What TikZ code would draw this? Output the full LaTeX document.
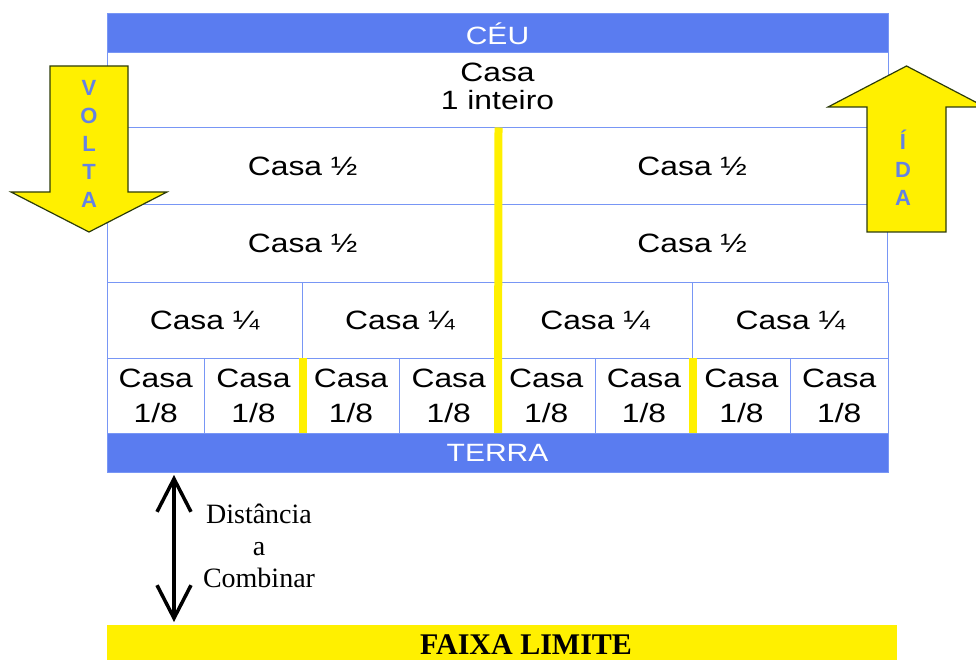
\documentclass[tikz,border=0pt]{standalone}
\usepackage{fontspec}
\setmainfont{Liberation Serif}
\newfontfamily\casafont[FakeStretch=1.2]{Liberation Sans}
\newfontfamily\setafont{Liberation Sans}
\usetikzlibrary{arrows.meta}
\definecolor{barblue}{RGB}{90,124,240}
\definecolor{gridblue}{RGB}{120,150,245}
\definecolor{faixayellow}{RGB}{255,240,0}
\definecolor{arrowedge}{RGB}{45,60,10}
\definecolor{letterblue}{RGB}{100,130,228}
\begin{document}
\begin{tikzpicture}[x=1pt,y=-1pt,
  cell/.style={rectangle,draw=gridblue,line width=1pt,inner sep=0pt,align=center,
    font={\casafont\fontsize{26.5pt}{28pt}\selectfont}},
  cell8/.style={cell,minimum width=97.625pt,minimum height=75pt,
    font={\casafont\fontsize{26.5pt}{35pt}\selectfont}},
  bar/.style={rectangle,fill=barblue,draw=gridblue,line width=1pt,inner sep=0pt,
    minimum width=781pt,minimum height=39pt,text=white,
    font={\casafont\fontsize{25pt}{28pt}\selectfont}},
  divider/.style={draw=faixayellow,line width=8pt},
  bigarrow/.style={fill=faixayellow,draw=arrowedge,line width=1.2pt,line join=miter},
  seta/.style={text=letterblue,align=center,inner sep=0pt,
    font={\setafont\bfseries\fontsize{22pt}{28pt}\selectfont}},
  dist/.style={arrows={Straight Barb[length=33pt,width=34pt]-Straight Barb[length=33pt,width=34pt]},line width=3.5pt}]
\clip (0,0) rectangle (976,660);
%
\node at (497.5,90.5) [cell,minimum width=781pt,minimum height=75pt,text depth=8pt] (inteiro) {Casa\\1 inteiro};
%
\node at (302.75,166.5) [cell,minimum width=390.5pt,minimum height=77pt] (meio11) {Casa ½};
\node at (692.25,166.5) [cell,minimum width=390.5pt,minimum height=77pt] (meio12) {Casa ½};
\node at (302.75,243.5) [cell,minimum width=390.5pt,minimum height=77pt] (meio21) {Casa ½};
\node at (692.25,243.5) [cell,minimum width=390.5pt,minimum height=77pt] (meio22) {Casa ½};
%
\node at (204.625,320) [cell,minimum width=195.25pt,minimum height=76pt] (quarto1) {Casa ¼};
\node at (399.875,320) [cell,minimum width=195.25pt,minimum height=76pt] (quarto2) {Casa ¼};
\node at (595.125,320) [cell,minimum width=195.25pt,minimum height=76pt] (quarto3) {Casa ¼};
\node at (790.375,320) [cell,minimum width=195.25pt,minimum height=76pt] (quarto4) {Casa ¼};
%
\node at (155.8125,395.5) [cell8] (oitavo1) {Casa\\1/8};
\node at (253.4375,395.5) [cell8] (oitavo2) {Casa\\1/8};
\node at (351.0625,395.5) [cell8] (oitavo3) {Casa\\1/8};
\node at (448.6875,395.5) [cell8] (oitavo4) {Casa\\1/8};
\node at (546.3125,395.5) [cell8] (oitavo5) {Casa\\1/8};
\node at (643.9375,395.5) [cell8] (oitavo6) {Casa\\1/8};
\node at (741.5625,395.5) [cell8] (oitavo7) {Casa\\1/8};
\node at (839.1875,395.5) [cell8] (oitavo8) {Casa\\1/8};
%
\draw[divider] (meio11.north east) -- (oitavo4.south east);
\draw[divider] (oitavo2.north east) -- (oitavo2.south east);
\draw[divider] (oitavo6.north east) -- (oitavo6.south east);
%
\node at (497.5,33.5) [bar] (ceu) {CÉU};
\node at (497.5,452.5) [bar] (terra) {TERRA};
%
\draw[bigarrow] (50,66) -- (128,66) -- (128,192) -- (167,192) -- (89,232) -- (11,192) -- (50,192) -- cycle;
\node at (89,144) [seta] (volta) {V\\O\\L\\T\\A};
\draw[bigarrow] (867,232) -- (946,232) -- (946,107) -- (985,107) -- (906.5,66) -- (828,107) -- (867,107) -- cycle;
\node at (903,168) [seta] (ida) {Í\\D\\A};
%
\coordinate (distTop) at (174,475);
\coordinate (distBot) at (174,622);
\draw[dist] (distTop) -- (distBot);
\node at (259,546) [align=center,inner sep=0pt,font={\fontsize{28pt}{32pt}\selectfont}] (distTxt) {Distância\\a\\Combinar};
%
\node at (502,645) [rectangle,fill=faixayellow,inner sep=0pt,minimum width=790pt,minimum height=40pt] (faixa) {};
\node at (526,654) [anchor=base,inner sep=0pt,font={\bfseries\fontsize{30pt}{34pt}\selectfont}] (faixaTxt) {FAIXA LIMITE};
\end{tikzpicture}
\end{document}
